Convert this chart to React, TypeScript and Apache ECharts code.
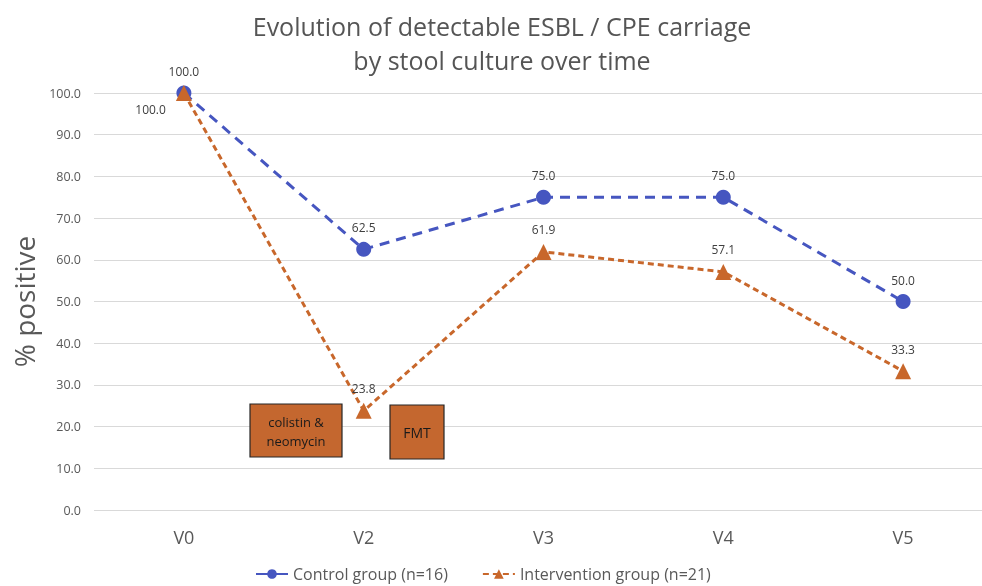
import React, { useEffect, useRef } from "react";
import * as echarts from "echarts";

const categories = ["V0", "V2", "V3", "V4", "V5"];
const controlValues = [100.0, 62.5, 75.0, 75.0, 50.0];
const interventionValues = [100.0, 23.8, 61.9, 57.1, 33.3];
const controlName = "Control group (n=16)";
const interventionName = "Intervention group (n=21)";
const titleLines = ["Evolution of detectable ESBL / CPE carriage", "by stool culture over time"];
const yAxisName = "% positive";

const BLUE = "#4656C0";
const ORANGE = "#C8672B";
const BOX = "#C4672F";
const TEXT = "#595959";
const FONT = "'Open Sans', 'Noto Sans', sans-serif";

export default function App() {
  const ref = useRef<HTMLDivElement>(null);
  useEffect(() => {
    const chart = echarts.init(ref.current!, null, { renderer: "svg" });
    chart.setOption({
      animation: false,
      textStyle: { fontFamily: FONT },
      title: {
        text: titleLines.join("\n"),
        left: 497,
        textAlign: "center",
        top: 4,
        textStyle: {
          fontFamily: FONT,
          fontSize: 25,
          fontWeight: "normal",
          color: "#555555",
          lineHeight: 34,
        },
      },
      grid: { left: 94, right: 0, top: 93, height: 417 },
      legend: {
        top: 561,
        left: 250,
        itemGap: 34,
        itemWidth: 32,
        itemHeight: 12,
        textStyle: { fontFamily: FONT, fontSize: 16, color: TEXT },
        data: [
          { name: controlName, lineStyle: { type: "solid" } },
          { name: interventionName, lineStyle: { type: [6, 4] } },
        ],
      },
      xAxis: {
        type: "category",
        data: categories,
        axisLine: { show: false },
        axisTick: { show: false },
        axisLabel: { fontSize: 18, color: TEXT, margin: 18, fontFamily: FONT },
      },
      yAxis: {
        type: "value",
        min: 0,
        max: 100,
        interval: 10,
        name: yAxisName,
        nameLocation: "middle",
        nameGap: 52,
        nameTextStyle: { fontSize: 28, color: TEXT, fontFamily: FONT },
        axisLine: { show: false },
        axisTick: { show: false },
        axisLabel: {
          fontSize: 12.5,
          color: TEXT,
          margin: 13,
          formatter: (v: number) => v.toFixed(1),
        },
        splitLine: { lineStyle: { color: "#D9D9D9", width: 1 } },
      },
      series: [
        {
          name: controlName,
          type: "line",
          data: controlValues,
          symbol: "circle",
          symbolSize: 15,
          itemStyle: { color: BLUE },
          lineStyle: { color: BLUE, width: 3, type: [10, 7] },
          label: {
            show: true,
            position: "top",
            distance: 8,
            fontSize: 12,
            color: "#404040",
            formatter: (p: any) => Number(p.value).toFixed(1),
          },
          z: 3,
        },
        {
          name: interventionName,
          type: "line",
          data: interventionValues.map((v, i) =>
            i === 0
              ? { value: v, label: { position: "left", offset: [-2, 16] } }
              : { value: v }
          ),
          symbol: "triangle",
          symbolSize: 16,
          itemStyle: { color: ORANGE },
          lineStyle: { color: ORANGE, width: 3, type: [6, 4] },
          label: {
            show: true,
            position: "top",
            distance: 8,
            fontSize: 12,
            color: "#404040",
            formatter: (p: any) => Number(p.value).toFixed(1),
          },
          z: 4,
        },
      ],
      graphic: [
        {
          type: "rect",
          shape: { x: 250, y: 404, width: 92, height: 53 },
          style: { fill: BOX, stroke: "#262626", lineWidth: 1.2 },
          z: 10,
        },
        {
          type: "text",
          x: 296,
          y: 431,
          style: {
            text: "colistin &\nneomycin",
            align: "center",
            verticalAlign: "middle",
            fontSize: 13,
            lineHeight: 19,
            fill: "#1a1a1a",
            fontFamily: FONT,
          },
          z: 11,
        },
        {
          type: "rect",
          shape: { x: 390, y: 405, width: 54, height: 54 },
          style: { fill: BOX, stroke: "#262626", lineWidth: 1.2 },
          z: 10,
        },
        {
          type: "text",
          x: 417,
          y: 432,
          style: {
            text: "FMT",
            align: "center",
            verticalAlign: "middle",
            fontSize: 14,
            fill: "#1a1a1a",
            fontFamily: FONT,
          },
          z: 11,
        },
      ],
    });
    return () => chart.dispose();
  }, []);
  return (
    <div
      ref={ref}
      style={{ position: "fixed", left: 0, top: 0, width: 993, height: 586 }}
    />
  );
}
